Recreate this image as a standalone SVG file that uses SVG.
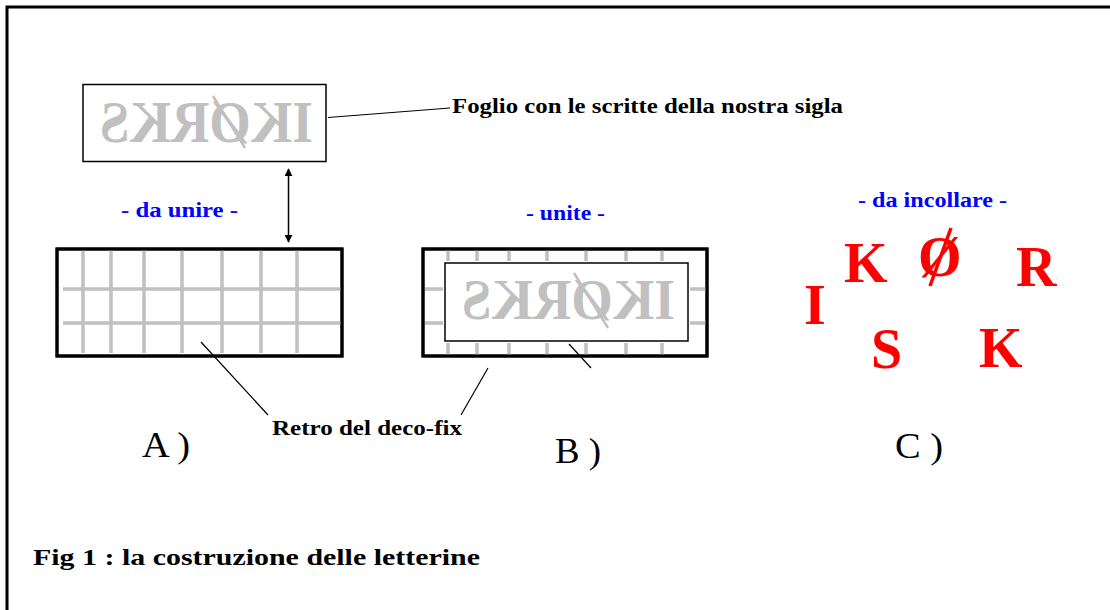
<svg xmlns="http://www.w3.org/2000/svg" width="1110" height="610" viewBox="0 0 1110 610">
<defs>
<style>
.lbl{font-family:"Liberation Serif","Times New Roman",serif;font-weight:bold;fill:#000}
.blue{font-family:"Liberation Serif","Times New Roman",serif;font-weight:bold;fill:#0000ff;font-size:20px}
.mir{font-family:"Liberation Serif","Times New Roman",serif;font-weight:bold;fill:#c0c0c0}
.red{font-family:"Liberation Serif","Times New Roman",serif;font-weight:bold;fill:#ff0000;font-size:56px}
.abc{font-family:"Liberation Serif","Times New Roman",serif;fill:#000;font-size:35px}
.grid{stroke:#c0c0c0;stroke-width:3.5;fill:none}
.thick{fill:#fff;stroke:#000;stroke-width:3}
.thin{fill:none;stroke:#000;stroke-width:1.5}
.lead{stroke:#000;stroke-width:1.2;fill:none}
.gslash{stroke:#c0c0c0;stroke-width:2.5}
</style>
<marker id="ah" viewBox="0 0 10 10" refX="9" refY="5" markerWidth="8" markerHeight="8" markerUnits="userSpaceOnUse" orient="auto-start-reverse">
<path d="M0,0 L10,5 L0,10 z" fill="#000"/>
</marker>
</defs>
<rect width="1110" height="610" fill="#fff"/>
<polyline points="7,610 7,7 1110,7" fill="none" stroke="#000" stroke-width="3"/>

<g id="sheet">
<rect x="83" y="84.5" width="243" height="77" fill="#fff" stroke="#000" stroke-width="1.5"/>
<text class="mir" transform="scale(-1,1)" x="-206.5" y="142" font-size="59" text-anchor="middle" textLength="213" lengthAdjust="spacingAndGlyphs">IKØRKS</text>
<line class="gslash" x1="213" y1="96" x2="245" y2="148"/>
</g>

<g id="panelA">
<rect class="thick" x="57" y="249" width="285" height="107"/>
<path class="grid" d="M83,250V353M111,250V353M144,250V353M182,250V353M222,250V353M261,250V353M297,250V353M63,289H341M63,323H341"/>
<rect x="57" y="249" width="285" height="107" fill="none" stroke="#000" stroke-width="3"/>
</g>

<g id="panelB">
<rect class="thick" x="423" y="249" width="284" height="107"/>
<path class="grid" d="M448,250V261M477,250V261M509,250V261M547,250V261M586,250V261M626,250V261M662,250V261M448,343V355M477,343V355M509,343V355M547,343V355M586,343V355M626,343V355M662,343V355M425,289H443M425,323H443M690,289H706M690,323H706"/>
<rect x="423" y="249" width="284" height="107" fill="none" stroke="#000" stroke-width="3"/>
<rect class="thin" x="445" y="263" width="243" height="78"/>
<text class="mir" transform="scale(-1,1)" x="-568.5" y="319" font-size="57" text-anchor="middle" textLength="213" lengthAdjust="spacingAndGlyphs">IKØRKS</text>
<line class="gslash" x1="574" y1="273" x2="608" y2="328"/>
</g>

<g id="panelC">
<text class="red" x="844" y="282">K</text>
<text class="red" x="918" y="276" font-size="54">Ø</text>
<line x1="951" y1="228" x2="930" y2="286" stroke="#ff0000" stroke-width="3.5"/>
<text class="red" x="1016" y="286">R</text>
<text class="red" x="804" y="324">I</text>
<text class="red" x="871" y="368">S</text>
<text class="red" x="979" y="367">K</text>
</g>

<g id="connectors">
<line class="lead" x1="328" y1="117.5" x2="450" y2="108"/>
<line x1="288.5" y1="169" x2="288.5" y2="242" stroke="#000" stroke-width="1.5" marker-start="url(#ah)" marker-end="url(#ah)"/>
<line class="lead" x1="201" y1="342" x2="268" y2="415"/>
<line class="lead" x1="488" y1="368" x2="461" y2="415"/>
<line class="lead" x1="569" y1="344" x2="591" y2="368"/>
</g>

<g id="labels">
<text class="lbl" x="452" y="113" font-size="20" textLength="391" lengthAdjust="spacingAndGlyphs">Foglio con le scritte della nostra sigla</text>
<text class="blue" x="121" y="217" textLength="117" lengthAdjust="spacingAndGlyphs">- da unire -</text>
<text class="blue" x="526" y="220" textLength="79" lengthAdjust="spacingAndGlyphs">- unite -</text>
<text class="blue" x="858" y="207" textLength="149" lengthAdjust="spacingAndGlyphs">- da incollare -</text>
<text class="lbl" x="272" y="435" font-size="20" textLength="190" lengthAdjust="spacingAndGlyphs">Retro del deco-fix</text>
<text class="abc" x="142" y="457" textLength="48" lengthAdjust="spacingAndGlyphs">A )</text>
<text class="abc" x="555" y="463" textLength="46" lengthAdjust="spacingAndGlyphs">B )</text>
<text class="abc" x="895" y="458" textLength="48" lengthAdjust="spacingAndGlyphs">C )</text>
<text class="lbl" x="33" y="565" font-size="23" textLength="447" lengthAdjust="spacingAndGlyphs">Fig 1 : la costruzione delle letterine</text>
</g>
</svg>
